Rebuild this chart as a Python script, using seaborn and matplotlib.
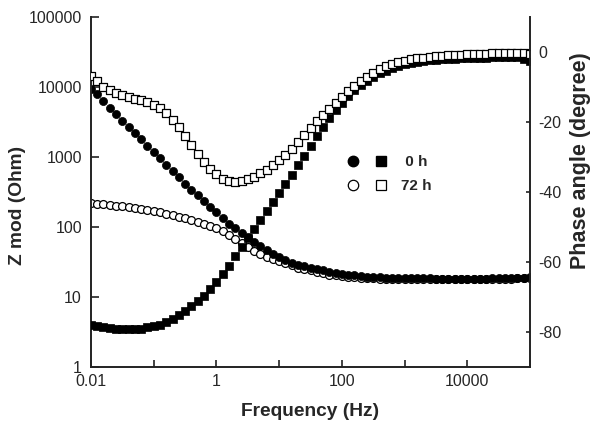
import pandas as pd
import seaborn as sns
import matplotlib.pyplot as plt
from matplotlib.lines import Line2D
from matplotlib.legend_handler import HandlerTuple
from matplotlib.ticker import NullLocator

# EIS data, 10 points per decade, 100 kHz .. 10 mHz
freq = [0.01, 0.0126, 0.0158, 0.02, 0.0251, 0.0316, 0.0398, 0.0501, 0.0631, 0.0794,
        0.1, 0.126, 0.158, 0.2, 0.251, 0.316, 0.398, 0.501, 0.631, 0.794,
        1, 1.26, 1.58, 2.0, 2.51, 3.16, 3.98, 5.01, 6.31, 7.94,
        10, 12.6, 15.8, 20, 25.1, 31.6, 39.8, 50.1, 63.1, 79.4,
        100, 126, 158, 200, 251, 316, 398, 501, 631, 794,
        1000, 1260, 1580, 2000, 2510, 3160, 3980, 5010, 6310, 7940,
        10000, 12600, 15800, 20000, 25100, 31600, 39800, 50100, 63100, 79400,
        100000]

zmod_0h = [9330, 7940, 6310, 5010, 4070, 3310, 2690, 2190, 1780, 1450,
           1170, 955, 776, 631, 513, 417, 339, 282, 234, 195,
           162, 135, 112, 95.5, 83.2, 72.4, 61.7, 53.7, 46.8, 41.7,
           37.2, 33.9, 30.9, 28.8, 27.5, 26.3, 25.1, 24.0, 22.9, 22.1,
           21.4, 20.9, 20.4, 20.0, 19.5, 19.3, 19.1, 18.8, 18.6, 18.6,
           18.5, 18.5, 18.4, 18.4, 18.4, 18.3, 18.3, 18.3, 18.3, 18.3,
           18.3, 18.3, 18.3, 18.3, 18.4, 18.4, 18.5, 18.6, 18.7, 18.9, 19.1]

zmod_72h = [219, 216, 211, 206, 201, 197, 192, 187, 181, 175,
            168, 162, 155, 148, 141, 135, 126, 117, 110, 102,
            95.5, 87.1, 77.6, 67.6, 58.9, 51.3, 45.7, 40.7, 37.2, 34.7,
            32.4, 30.2, 28.2, 26.3, 25.1, 24.0, 22.9, 21.9, 20.9, 20.4,
            20.0, 19.5, 19.1, 18.8, 18.6, 18.4, 18.3, 18.2, 18.2, 18.1,
            18.1, 18.1, 18.0, 18.0, 18.0, 18.0, 18.0, 18.0, 18.0, 18.0,
            18.0, 18.0, 18.0, 18.0, 18.1, 18.1, 18.2, 18.3, 18.4, 18.6, 18.8]

phase_0h = [-77.9, -78.3, -78.6, -78.9, -79.0, -79.1, -79.2, -79.1, -79.0, -78.7,
            -78.4, -77.9, -77.1, -76.2, -75.1, -73.9, -72.5, -71.1, -69.6, -67.8,
            -65.7, -63.4, -61.0, -58.4, -55.8, -53.2, -50.6, -48.0, -45.5, -43.0,
            -40.4, -37.8, -35.2, -32.4, -29.6, -26.9, -24.1, -21.5, -19.0, -16.7,
            -14.6, -12.7, -11.0, -9.5, -8.2, -7.1, -6.1, -5.3, -4.6, -4.0,
            -3.5, -3.1, -2.8, -2.6, -2.4, -2.2, -2.1, -2.0, -1.9, -1.8,
            -1.7, -1.7, -1.6, -1.6, -1.5, -1.5, -1.5, -1.4, -1.5, -1.9, -2.6]

phase_72h = [-6.8, -8.4, -10.0, -10.9, -11.8, -12.3, -12.8, -13.3, -13.7, -14.4,
             -15.2, -16.1, -17.5, -19.4, -21.5, -24.1, -26.7, -29.1, -31.4, -33.4,
             -35.0, -36.2, -36.9, -37.2, -37.0, -36.4, -35.6, -34.7, -33.6, -32.3,
             -30.9, -29.4, -27.6, -25.6, -23.6, -21.6, -19.7, -17.9, -16.2, -14.5,
             -12.8, -11.2, -9.8, -8.4, -7.1, -5.9, -4.9, -4.0, -3.4, -2.9,
             -2.5, -2.1, -1.8, -1.6, -1.4, -1.2, -1.1, -1.0, -0.9, -0.8,
             -0.7, -0.6, -0.5, -0.5, -0.4, -0.3, -0.3, -0.2, -0.3, -0.4, -0.5]

x_ticks = [0.01, 0.1, 1, 10, 100, 1000, 10000, 100000]
x_ticklabels = ['0.01', '', '1', '', '100', '', '10000', '']
z_ticks = [1, 10, 100, 1000, 10000, 100000]
z_ticklabels = ['1', '10', '100', '1000', '10000', '100000']
ph_ticks = [0, -20, -40, -60, -80]
ph_ticklabels = ['0', '-20', '-40', '-60', '-80']

df = pd.DataFrame({'freq': freq, 'zmod_0h': zmod_0h, 'zmod_72h': zmod_72h,
                   'phase_0h': phase_0h, 'phase_72h': phase_72h})

sns.set_theme(style='ticks')
plt.rcParams['font.family'] = ['Liberation Sans', 'DejaVu Sans']
plt.rcParams['axes.unicode_minus'] = False

fig = plt.figure(figsize=(6, 4.29), dpi=100)
ax = fig.add_axes([0.1517, 0.1445, 0.7317, 0.8159])
ax2 = ax.twinx()

# |Z| on the left axis
sns.scatterplot(data=df, x='freq', y='zmod_72h', ax=ax, marker='o', s=32,
                color='white', edgecolor='black', linewidth=0.9)
sns.scatterplot(data=df, x='freq', y='zmod_0h', ax=ax, marker='o', s=34,
                color='black', edgecolor='black', linewidth=0.5)
# phase on the right axis
sns.scatterplot(data=df, x='freq', y='phase_0h', ax=ax2, marker='s', s=28,
                color='black', edgecolor='black', linewidth=0.5)
sns.scatterplot(data=df, x='freq', y='phase_72h', ax=ax2, marker='s', s=28,
                color='white', edgecolor='black', linewidth=0.9)

ax.set_xscale('log')
ax.set_yscale('log')
ax.set_xlim(0.01, 1e5)
ax.set_ylim(1, 1e5)
ax2.set_ylim(-90, 10)

ax.set_xticks(x_ticks)
ax.set_xticklabels(x_ticklabels)
ax.set_yticks(z_ticks)
ax.set_yticklabels(z_ticklabels)
ax.xaxis.set_minor_locator(NullLocator())
ax.yaxis.set_minor_locator(NullLocator())
ax2.set_yticks(ph_ticks)
ax2.set_yticklabels(ph_ticklabels)

ax.tick_params(axis='x', direction='in', length=5, width=1.2, labelsize=11.5, pad=5, color='#222')
ax.tick_params(axis='y', direction='in', length=6, width=1.2, labelsize=11.5, pad=6.5, color='#222')
ax2.tick_params(axis='y', direction='in', length=3, width=1.2, labelsize=11.5, pad=6, color='#222')

for a in (ax, ax2):
    a.spines['top'].set_visible(False)
    for s in a.spines.values():
        s.set_linewidth(1.4)
        s.set_color('#222')
ax.spines['right'].set_visible(False)
ax2.spines['left'].set_visible(False)
ax2.spines['bottom'].set_visible(False)

ax.set_xlabel('Frequency (Hz)', fontsize=13.8, fontweight='bold')
ax.set_ylabel('Z mod (Ohm)', fontsize=13.8, fontweight='bold')
ax2.set_ylabel('Phase angle (degree)', fontsize=15.5, fontweight='bold')
ax.xaxis.set_label_coords(0.5, -0.103)
ax.yaxis.set_label_coords(-0.148, 0.463)
ax2.yaxis.set_label_coords(1.091, 0.591)

h0 = (Line2D([], [], ls='none', marker='o', ms=7.5, mfc='black', mec='black'),
      Line2D([], [], ls='none', marker='s', ms=7, mfc='black', mec='black'))
h72 = (Line2D([], [], ls='none', marker='o', ms=7.5, mfc='white', mec='black', mew=0.9),
       Line2D([], [], ls='none', marker='s', ms=7, mfc='white', mec='black', mew=0.9))
ax2.legend([h0, h72], [' 0 h', '72 h'], handler_map={tuple: HandlerTuple(ndivide=None, pad=0)},
           frameon=False, loc='center', bbox_to_anchor=(0.671, 0.551),
           handlelength=3.66, handletextpad=0.4, labelspacing=0.67, borderpad=0,
           prop={'weight': 'bold', 'size': 11})

fig.savefig('out.png', dpi=100)
